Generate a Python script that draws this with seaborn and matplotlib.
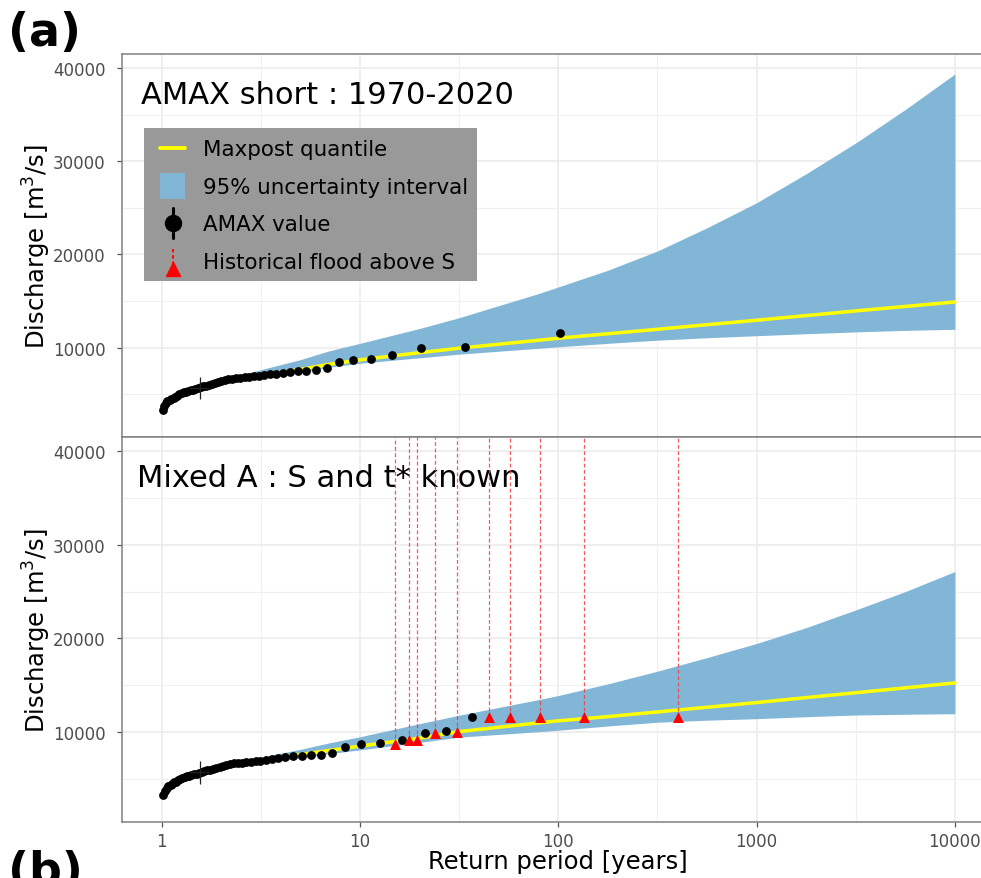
import numpy as np
import pandas as pd
import matplotlib
matplotlib.use("Agg")
import matplotlib.pyplot as plt
import seaborn as sns
from matplotlib.lines import Line2D
from matplotlib.patches import Rectangle
from matplotlib.legend_handler import HandlerBase
from matplotlib.ticker import FixedLocator

# ---------------- data ----------------
# AMAX values (m3/s), ranked from largest to smallest
amax_q = [11600, 10100, 9930, 9200, 8800, 8680, 8450, 7800, 7570, 7530,
          7460, 7400, 7300, 7200, 7110, 7040, 6950, 6900, 6850, 6800,
          6750, 6700, 6650, 6580, 6500, 6420, 6300, 6200, 6100, 6000,
          5900, 5820, 5720, 5650, 5550, 5480, 5420, 5350, 5260, 5180,
          5100, 5000, 4850, 4720, 4620, 4500, 4400, 4250, 4050, 3750, 3250]
# return periods of AMAX values, panel "AMAX short"
amax_t_short = [102.0, 34.0, 20.4, 14.57, 11.33, 9.27, 7.85, 6.80, 6.00, 5.37,
                4.86, 4.43, 4.08, 3.78, 3.52, 3.29, 3.09, 2.91, 2.76, 2.62,
                2.49, 2.37, 2.27, 2.17, 2.08, 2.00, 1.93, 1.85, 1.79, 1.73,
                1.67, 1.62, 1.57, 1.52, 1.48, 1.44, 1.40, 1.36, 1.33, 1.29,
                1.26, 1.23, 1.20, 1.17, 1.15, 1.12, 1.10, 1.07, 1.05, 1.03, 1.01]
# return periods of AMAX values, panel "Mixed A"
amax_t_mixed = [36.8, 27.0, 21.3, 16.2, 12.6, 10.1, 8.4, 7.2, 6.33, 5.64,
                5.08, 4.61, 4.19, 3.87, 3.59, 3.35, 3.12, 2.99, 2.82, 2.67,
                2.54, 2.42, 2.31, 2.21, 2.12, 2.03, 1.96, 1.88, 1.82, 1.75,
                1.70, 1.64, 1.59, 1.54, 1.50, 1.45, 1.41, 1.38, 1.34, 1.31,
                1.27, 1.24, 1.21, 1.18, 1.16, 1.13, 1.11, 1.08, 1.06, 1.04, 1.02]

# one AMAX value with an uncertainty cross
err_t = [1.56]
err_q = [5710]
err_t_low = [1.39]
err_t_high = [1.74]
err_q_low = [4460]
err_q_high = [6890]

# historical floods above S (Mixed A panel)
hist_t = [15.0, 17.7, 19.3, 23.9, 31.0, 44.7, 57.3, 80.4, 134.0, 400.0]
hist_q = [8750, 9180, 9180, 9890, 10050, 11650, 11650, 11650, 11650, 11650]

# quantile curves
quant_t = [1.01, 1.05, 1.1, 1.2, 1.5, 2, 3, 5, 7, 10, 20, 31.6, 81, 100,
           178, 316, 562, 1000, 1778, 3162, 5623, 10000]
short_maxpost = [3250, 3950, 4450, 4950, 5700, 6350, 6950, 7650, 8200, 8680,
                 9450, 9930, 10800, 11000, 11480, 11960, 12450, 12930, 13430,
                 13930, 14410, 14890]
short_upper = [3300, 4050, 4600, 5150, 5900, 6650, 7500, 8700, 9650, 10450,
               12050, 13200, 15850, 16500, 18300, 20360, 22850, 25540, 28650,
               31960, 35550, 39360]
short_lower = [3200, 3850, 4300, 4800, 5550, 6150, 6700, 7300, 7900, 8320,
               8900, 9290, 9930, 10080, 10450, 10790, 11050, 11270, 11480,
               11680, 11840, 11960]
mixed_maxpost = [3250, 3950, 4450, 4950, 5700, 6350, 6950, 7600, 8040, 8500,
                 9350, 10050, 11000, 11200, 11650, 12150, 12650, 13150, 13680,
                 14200, 14720, 15250]
mixed_upper = [3300, 4050, 4600, 5150, 5850, 6500, 7250, 8150, 8850, 9500,
               10900, 11800, 13500, 13900, 15150, 16500, 17950, 19460, 21150,
               23040, 25000, 27140]
mixed_lower = [3200, 3850, 4300, 4800, 5550, 6150, 6650, 7250, 7700, 8100,
               8900, 9460, 10050, 10200, 10650, 11050, 11270, 11430, 11640,
               11820, 11900, 11960]

x_ticks = [1, 10, 100, 1000, 10000]
x_tick_labels = ["1", "10", "100", "1000", "10000"]
y_ticks = [10000, 20000, 30000, 40000]
y_tick_labels = ["10000", "20000", "30000", "40000"]
panel_titles = ["AMAX short : 1970-2020", "Mixed A : S and t* known"]
legend_labels = ["Maxpost quantile", "95% uncertainty interval",
                 "AMAX value", "Historical flood above S"]

# ---------------- styling ----------------
BAND = "#82B6D6"
LINE = "#FFFF00"
sns.set_theme(style="white")
plt.rcParams['font.family'] = ['DejaVu Sans']
plt.rcParams['text.color'] = 'black'

W, H = 981, 879
PX = 72 / 100  # points per pixel
fig = plt.figure(figsize=(W / 100, H / 100), dpi=100)

ax_left = 122 / W
ax_width = 872.6 / W
ax_top = fig.add_axes([ax_left, 1 - 438 / H, ax_width, (438 - 55) / H])
ax_bot = fig.add_axes([ax_left, 1 - 823 / H, ax_width, (823 - 438) / H])


def style_axes(ax, show_xlabels):
    ax.set_xscale('log')
    ax.set_xlim(10 ** -0.2, 10 ** 4.2)
    ax.set_ylim(400, 41500)
    ax.xaxis.set_major_locator(FixedLocator(x_ticks))
    ax.xaxis.set_minor_locator(FixedLocator([10 ** 0.5, 10 ** 1.5, 10 ** 2.5, 10 ** 3.5]))
    ax.yaxis.set_major_locator(FixedLocator(y_ticks))
    ax.yaxis.set_minor_locator(FixedLocator([5000, 15000, 25000, 35000]))
    ax.set_yticklabels(y_tick_labels)
    if show_xlabels:
        ax.set_xticklabels(x_tick_labels)
    else:
        ax.set_xticklabels([])
    ax.grid(which='major', color='#EBEBEB', lw=1.1)
    ax.grid(which='minor', color='#F0F0F0', lw=0.8)
    ax.set_axisbelow(True)
    ax.tick_params(axis='both', which='major', length=3.8, width=0.9,
                   color='#555555', labelsize=12, labelcolor='#4D4D4D',
                   left=True, bottom=True)
    ax.tick_params(axis='y', which='major', pad=8.2)
    ax.tick_params(axis='x', which='major', pad=3.5)
    ax.tick_params(which='minor', length=0)
    for s in ax.spines.values():
        s.set_color('#808080')
        s.set_linewidth(1.1)
    ax.set_xlabel("")
    ax.set_ylabel("")


def draw_panel(ax, t_pts, maxpost, upper, lower, title, title_x):
    qdf = pd.DataFrame({"T": quant_t, "maxpost": maxpost,
                        "upper": upper, "lower": lower})
    ax.fill_between(qdf["T"], qdf["lower"], qdf["upper"], color=BAND, lw=0, zorder=1)
    sns.lineplot(data=qdf, x="T", y="maxpost", ax=ax, color=LINE, lw=2.5,
                 zorder=2, errorbar=None, legend=False)
    pts = pd.DataFrame({"T": t_pts, "Q": amax_q})
    sns.scatterplot(data=pts, x="T", y="Q", ax=ax, color="black", s=40,
                    linewidth=0, zorder=4, legend=False)
    ax.errorbar(err_t, err_q,
                yerr=[np.subtract(err_q, err_q_low), np.subtract(err_q_high, err_q)],
                xerr=[np.subtract(err_t, err_t_low), np.subtract(err_t_high, err_t)],
                fmt='none', ecolor='#222222', elinewidth=0.9, capsize=0, zorder=5)
    ax.text(title_x, 0.894, title, transform=ax.transAxes,
            ha='left', va='center', fontsize=22, color='black')


draw_panel(ax_top, amax_t_short, short_maxpost, short_upper, short_lower,
           panel_titles[0], 0.0215)
draw_panel(ax_bot, amax_t_mixed, mixed_maxpost, mixed_upper, mixed_lower,
           panel_titles[1], 0.017)

# historical floods
ymax = 41500
ax_bot.vlines(hist_t, hist_q, ymax, colors='#F03C3C', lw=0.9, alpha=0.85,
              linestyles=(0, (3, 2)), zorder=3)
hdf = pd.DataFrame({"T": hist_t, "Q": hist_q})
sns.scatterplot(data=hdf, x="T", y="Q", ax=ax_bot, color="#FF0000", marker="^",
                s=62, linewidth=0, zorder=6, legend=False)

style_axes(ax_top, False)
style_axes(ax_bot, True)


# ---------------- legend ----------------
KEY_W = 25 * PX  # key width in points


class KeyHandler(HandlerBase):
    def __init__(self, kind):
        super().__init__()
        self.kind = kind

    def create_artists(self, legend, orig_handle, xdescent, ydescent, width,
                       height, fontsize, trans):
        x1 = -xdescent + width
        x0 = x1 - KEY_W
        cx = (x0 + x1) / 2
        cy = -ydescent + height / 2
        if self.kind == 'line':
            return [Line2D([x0, x1], [cy, cy], color=LINE, lw=2.8, transform=trans)]
        if self.kind == 'band':
            h = 26 * PX
            return [Rectangle((x0, cy - h / 2), KEY_W, h, facecolor=BAND,
                              edgecolor='none', transform=trans)]
        if self.kind == 'amax':
            vl = Line2D([cx, cx], [cy - 15 * PX, cy + 15 * PX],
                        color='black', lw=2.2, transform=trans)
            pt = Line2D([cx], [cy], marker='o', ms=11.5, color='black', ls='none',
                        transform=trans)
            return [vl, pt]
        vl = Line2D([cx, cx], [cy - 4 * PX, cy + 12 * PX],
                    color='#FF0000', lw=1.3, ls=(0, (2, 1.5)), transform=trans)
        tri = Line2D([cx], [cy - 8 * PX], marker='^', ms=10,
                     color='#FF0000', ls='none', transform=trans)
        return [vl, tri]


class KLine: pass
class KBand: pass
class KAmax: pass
class KHist: pass


handles = [KLine(), KBand(), KAmax(), KHist()]
leg = ax_top.legend(handles, legend_labels, loc='upper left',
                    bbox_to_anchor=(144 / W, 1 - 129 / H),
                    bbox_transform=fig.transFigure, borderaxespad=0,
                    fontsize=15.4, frameon=True, fancybox=False,
                    facecolor='#999999', edgecolor='none', framealpha=1,
                    handlelength=1.5, handleheight=1.2, handletextpad=0.84,
                    labelspacing=0.72, borderpad=0.42,
                    handler_map={KLine: KeyHandler('line'), KBand: KeyHandler('band'),
                                 KAmax: KeyHandler('amax'), KHist: KeyHandler('hist')})
for t in leg.get_texts():
    t.set_color('black')
leg.set_zorder(10)

# ---------------- labels ----------------
for ax in (ax_top, ax_bot):
    pos = ax.get_position()
    fig.text(37 / W, pos.y0 + pos.height / 2, "Discharge [m$^3$/s]", rotation=90,
             ha='center', va='center', fontsize=17.5, color='black')
fig.text(558 / W, 1 - 862 / H, "Return period [years]", ha='center', va='center',
         fontsize=17.5, color='black')
fig.text(8 / W, 1 - 11 / H, "(a)", ha='left', va='top', fontsize=33,
         fontweight='bold', color='black')
fig.text(8 / W, 1 - 850 / H, "(b)", ha='left', va='top', fontsize=33,
         fontweight='bold', color='black')

fig.savefig("out.png", dpi=100)
